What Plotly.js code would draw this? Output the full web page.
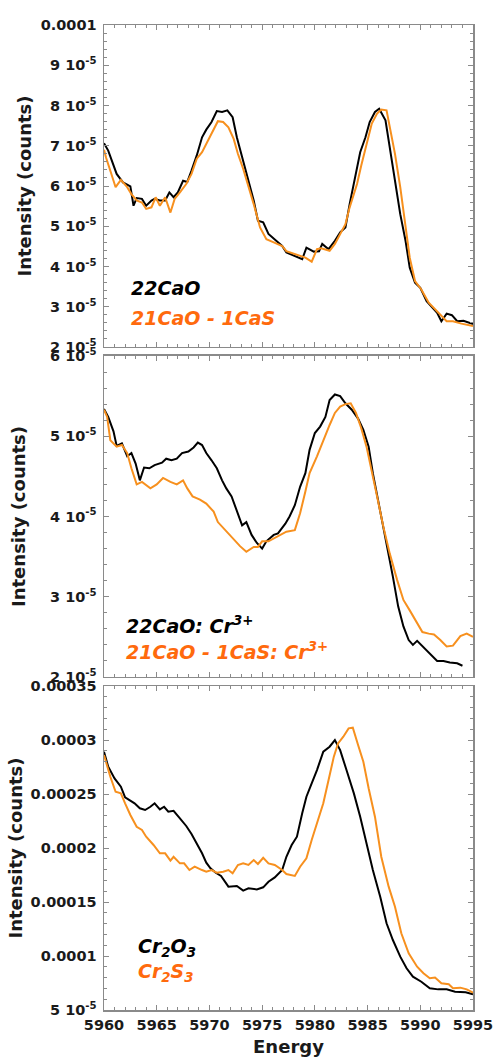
<!DOCTYPE html>
<html>
<head>
<meta charset="utf-8">
<script src="https://cdn.plot.ly/plotly-3.0.1.min.js"></script>
<style>html,body{margin:0;padding:0;background:#fff;}#chart{width:496px;height:1057px;}</style>
</head>
<body>
<div id="chart"></div>
<script>
// Intensity values are in units of 1e-5 counts
// Panel 1: 22CaO vs 21CaO - 1CaS
const e1Black = [5960.0,5960.4,5961.2,5961.8,5962.5,5962.8,5963.1,5963.6,5964.0,5964.5,5964.8,5965.3,5965.8,5966.2,5966.6,5967.0,5967.5,5967.9,5968.3,5968.8,5969.3,5969.7,5970.2,5970.7,5971.2,5971.7,5972.2,5972.6,5973.1,5973.5,5974.2,5974.6,5975.1,5975.6,5976.2,5976.9,5977.3,5978.1,5978.8,5979.2,5979.9,5980.4,5980.7,5981.3,5981.9,5982.4,5982.9,5983.3,5983.8,5984.3,5984.8,5985.2,5985.7,5986.1,5986.7,5987.1,5987.6,5988.1,5988.6,5989.0,5989.5,5990.0,5990.6,5991.2,5991.6,5992.0,5992.5,5993.0,5993.5,5994.1,5994.9,5995.0];
const i1Black = [7.06,6.88,6.30,6.09,5.99,5.51,5.70,5.68,5.51,5.64,5.68,5.64,5.64,5.84,5.72,5.84,6.13,6.10,6.38,6.76,7.21,7.40,7.59,7.86,7.84,7.88,7.71,7.21,6.72,6.30,5.64,5.14,5.10,4.81,4.68,4.51,4.35,4.26,4.18,4.47,4.37,4.38,4.56,4.43,4.64,4.85,4.97,5.55,6.22,6.84,7.21,7.59,7.84,7.92,7.63,6.97,6.13,5.30,4.64,3.97,3.60,3.47,3.14,2.98,2.85,2.64,2.83,2.79,2.64,2.65,2.58,2.57];
const e1Orange = [5960.0,5960.2,5960.6,5961.1,5961.6,5962.2,5962.6,5963.1,5963.6,5964.0,5964.5,5964.9,5965.3,5965.8,5966.3,5966.7,5967.2,5967.8,5968.3,5968.8,5969.3,5969.7,5970.4,5970.8,5971.3,5971.8,5972.3,5972.7,5973.2,5973.7,5974.2,5974.8,5975.4,5976.1,5976.9,5977.3,5978.1,5979.1,5979.7,5980.2,5980.6,5981.4,5981.9,5982.4,5982.9,5983.3,5984.0,5984.4,5984.9,5985.4,5985.9,5986.3,5986.8,5987.1,5987.6,5988.1,5988.6,5989.0,5989.5,5990.1,5990.8,5991.4,5991.9,5992.5,5993.1,5993.9,5995.0];
const i1Orange = [6.90,6.70,6.38,5.97,6.15,5.97,5.80,5.64,5.59,5.43,5.47,5.72,5.51,5.72,5.34,5.68,5.84,6.05,6.30,6.68,6.84,7.05,7.42,7.61,7.59,7.46,7.17,6.80,6.43,6.01,5.55,4.97,4.68,4.60,4.51,4.38,4.30,4.22,4.12,4.43,4.45,4.39,4.56,4.81,5.05,5.47,6.05,6.51,7.05,7.55,7.80,7.90,7.88,7.46,6.80,5.97,5.05,4.22,3.64,3.43,3.10,2.93,2.81,2.64,2.64,2.58,2.52];

// Panel 2: 22CaO: Cr3+ vs 21CaO - 1CaS: Cr3+
const e2Black = [5960.0,5960.4,5960.9,5961.2,5961.7,5962.2,5962.6,5963.0,5963.4,5963.8,5964.3,5964.8,5965.5,5965.9,5966.4,5966.9,5967.4,5968.0,5968.5,5968.9,5969.3,5969.7,5970.2,5970.7,5971.2,5971.6,5972.1,5972.6,5973.1,5973.5,5974.0,5974.5,5975.0,5975.4,5976.1,5976.5,5977.2,5977.6,5978.1,5978.6,5979.1,5979.5,5980.0,5980.5,5981.0,5981.4,5981.9,5982.4,5982.9,5983.5,5984.1,5984.6,5985.1,5985.5,5986.0,5986.5,5987.0,5987.4,5987.9,5988.4,5988.9,5989.3,5989.7,5990.3,5990.9,5991.6,5992.2,5992.8,5993.5,5994.0];
const i2Black = [5.34,5.24,5.06,4.88,4.91,4.75,4.79,4.66,4.45,4.61,4.60,4.64,4.67,4.72,4.70,4.72,4.79,4.81,4.86,4.92,4.89,4.79,4.70,4.60,4.45,4.35,4.25,4.08,3.89,3.93,3.77,3.67,3.60,3.69,3.77,3.79,3.91,4.00,4.14,4.37,4.54,4.83,5.04,5.12,5.24,5.45,5.52,5.50,5.41,5.33,5.22,5.08,4.87,4.54,4.21,3.87,3.54,3.25,2.88,2.63,2.46,2.40,2.45,2.37,2.30,2.20,2.20,2.18,2.17,2.14];
const e2Orange = [5960.0,5960.3,5960.6,5961.2,5961.7,5962.2,5962.6,5963.1,5963.6,5964.4,5965.0,5965.6,5966.3,5966.9,5967.5,5967.9,5968.4,5969.1,5969.7,5970.4,5970.8,5971.5,5972.3,5972.9,5973.5,5974.2,5974.6,5975.0,5975.6,5976.2,5976.9,5977.3,5978.1,5978.6,5979.1,5979.5,5980.2,5980.8,5981.4,5981.9,5982.4,5982.9,5983.4,5983.9,5984.4,5984.9,5985.4,5985.9,5986.5,5987.1,5987.8,5988.4,5989.0,5989.7,5990.2,5990.8,5991.3,5991.9,5992.5,5993.1,5993.8,5994.4,5995.0];
const i2Orange = [5.33,5.24,4.95,4.87,4.89,4.79,4.60,4.40,4.43,4.35,4.40,4.48,4.43,4.40,4.45,4.35,4.25,4.21,4.16,4.06,3.93,3.83,3.71,3.63,3.56,3.62,3.62,3.69,3.69,3.73,3.78,3.81,3.83,4.04,4.31,4.54,4.75,4.95,5.14,5.29,5.37,5.40,5.41,5.29,5.10,4.87,4.58,4.25,3.87,3.54,3.21,2.96,2.83,2.67,2.56,2.54,2.53,2.46,2.38,2.39,2.51,2.54,2.50];

// Panel 3: Cr2O3 vs Cr2S3
const e3Black = [5960.0,5960.4,5961.0,5961.6,5962.0,5962.5,5962.9,5963.4,5963.9,5964.4,5964.8,5965.3,5965.7,5966.1,5966.6,5967.2,5967.8,5968.3,5968.8,5969.3,5969.7,5970.1,5970.6,5971.1,5971.8,5972.6,5973.2,5973.7,5974.5,5975.1,5975.6,5976.2,5976.9,5977.3,5977.8,5978.3,5978.8,5979.2,5979.7,5980.2,5980.8,5981.4,5981.9,5982.4,5983.0,5983.7,5984.3,5984.9,5985.5,5986.2,5986.8,5987.4,5988.1,5988.7,5989.3,5990.1,5990.9,5991.7,5992.5,5993.3,5994.3,5995.0];
const i3Black = [28.92,27.53,26.45,25.68,24.69,24.38,24.14,23.68,23.52,23.82,24.14,23.58,23.82,23.36,23.45,22.75,22.04,21.30,20.44,19.51,18.64,18.12,17.71,17.41,16.42,16.48,16.05,16.27,16.17,16.36,16.88,17.28,17.96,19.19,20.28,21.05,23.21,24.75,25.99,27.22,28.92,29.38,30.00,29.07,27.22,25.06,22.90,20.44,17.96,15.49,13.03,11.48,9.94,8.86,8.09,7.62,7.01,6.91,6.91,6.70,6.64,6.45];
const e3Orange = [5960.0,5960.6,5961.1,5961.6,5962.0,5962.5,5963.1,5963.6,5964.0,5964.7,5965.3,5965.8,5966.3,5966.6,5967.2,5967.6,5968.1,5968.6,5969.3,5969.7,5970.2,5970.7,5971.3,5971.8,5972.2,5972.7,5973.2,5973.7,5974.2,5974.6,5975.1,5975.6,5976.2,5976.9,5977.3,5978.1,5978.6,5979.2,5979.7,5980.2,5980.8,5981.3,5981.8,5982.2,5982.7,5983.2,5983.6,5984.1,5984.6,5985.1,5985.7,5986.3,5987.0,5987.6,5988.2,5988.9,5989.7,5990.3,5990.9,5991.4,5992.0,5992.7,5993.1,5993.8,5994.4,5995.0];
const i3Orange = [28.61,26.60,25.21,25.06,24.14,23.06,21.97,21.67,21.05,20.28,19.51,19.51,18.83,19.19,18.58,18.58,17.96,18.27,17.96,17.81,17.96,17.71,17.81,17.96,17.65,18.43,18.58,18.43,18.89,18.52,19.10,18.58,18.43,17.96,17.59,17.41,18.27,19.05,20.74,22.29,24.14,26.30,28.46,29.69,30.31,31.08,31.14,29.54,27.99,25.53,22.90,19.19,16.42,14.56,12.10,10.25,9.01,8.40,7.94,8.00,7.47,7.38,7.01,7.07,6.91,6.60];

// Tick labels
const xTickVals = [5960,5965,5970,5975,5980,5985,5990,5995];
const xTickText = ["5960","5965","5970","5975","5980","5985","5990","5995"];
const y1TickVals = [2,3,4,5,6,7,8,9,10];
const y1TickText = ["2 10<sup>-5</sup>","3 10<sup>-5</sup>","4 10<sup>-5</sup>","5 10<sup>-5</sup>","6 10<sup>-5</sup>","7 10<sup>-5</sup>","8 10<sup>-5</sup>","9 10<sup>-5</sup>","0.0001"];
const y2TickVals = [2,3,4,5,6];
const y2TickText = ["2 10<sup>-5</sup>","3 10<sup>-5</sup>","4 10<sup>-5</sup>","5 10<sup>-5</sup>","6 10<sup>-5</sup>"];
const y3TickVals = [5,10,15,20,25,30,35];
const y3TickText = ["5 10<sup>-5</sup>","0.0001","0.00015","0.0002","0.00025","0.0003","0.00035"];

const BLACK = '#000000';
const ORANGE = '#f7901e';
const ORANGE_TXT = '#ff6a0d';
const FRAME = '#8a8a8a';
const FONT = 'DejaVu Sans';

function line(x, y, color, xa, ya) {
  return {x: x, y: y, type: 'scatter', mode: 'lines', xaxis: xa, yaxis: ya,
    line: {color: color, width: 2}, showlegend: false, hoverinfo: 'skip'};
}

const data = [
  line(e1Black, i1Black, BLACK, 'x', 'y'),
  line(e1Orange, i1Orange, ORANGE, 'x', 'y'),
  line(e2Black, i2Black, BLACK, 'x2', 'y2'),
  line(e2Orange, i2Orange, ORANGE, 'x2', 'y2'),
  line(e3Black, i3Black, BLACK, 'x3', 'y3'),
  line(e3Orange, i3Orange, ORANGE, 'x3', 'y3')
];

const tickFont = {family: FONT, size: 14.5, color: '#1a1a1a', weight: 'bold'};

function xAxis(anchor, labels) {
  const ax = {
    anchor: anchor, range: [5960, 5995], domain: [0, 1],
    showline: true, linecolor: FRAME, linewidth: 1.5, mirror: 'ticks',
    ticks: 'inside', ticklen: 5, tickwidth: 1, tickcolor: FRAME,
    tickmode: 'array', tickvals: xTickVals, ticktext: xTickText,
    showticklabels: labels, tickfont: tickFont, ticklabelstandoff: 1,
    minor: {ticks: 'inside', ticklen: 3, tickwidth: 1, tickcolor: FRAME, dtick: 1, tick0: 5960, showgrid: false},
    showgrid: false, zeroline: false, fixedrange: true
  };
  if (labels) {
    ax.title = {text: 'Energy', font: {family: FONT, size: 18, color: '#1a1a1a', weight: 'bold'}, standoff: 10};
  }
  return ax;
}

function yAxis(anchor, domain, range, vals, text, minorStep, standoff) {
  return {
    anchor: anchor, domain: domain, range: range,
    showline: true, linecolor: FRAME, linewidth: 1.5, mirror: 'ticks',
    ticks: 'inside', ticklen: 5, tickwidth: 1, tickcolor: FRAME,
    tickmode: 'array', tickvals: vals, ticktext: text,
    tickfont: tickFont, ticklabelstandoff: 3,
    minor: {ticks: 'inside', ticklen: 3, tickwidth: 1, tickcolor: FRAME, tickmode: 'linear', tick0: 0, dtick: minorStep, showgrid: false},
    title: {text: 'Intensity (counts)', font: {family: FONT, size: 18, color: '#1a1a1a', weight: 'bold'}, standoff: standoff},
    showgrid: false, zeroline: false, fixedrange: true
  };
}

function label(text, color, x, y, xr, yr) {
  return {text: '<b><i>' + text + '</i></b>', x: x, y: y, xref: xr, yref: yr,
    xanchor: 'left', yanchor: 'middle', showarrow: false,
    font: {family: FONT, size: 19, color: color}};
}

const layout = {
  width: 496, height: 1057,
  margin: {l: 104, r: 23, t: 25, b: 47, pad: 0},
  paper_bgcolor: '#ffffff', plot_bgcolor: '#ffffff',
  showlegend: false,
  xaxis: xAxis('y', false),
  xaxis2: xAxis('y2', false),
  xaxis3: xAxis('y3', true),
  yaxis: yAxis('x', [0.6731, 1], [2, 10], y1TickVals, y1TickText, 0.2, 4),
  yaxis2: yAxis('x2', [0.3381, 0.6640], [2, 6], y2TickVals, y2TickText, 0.2, 19),
  yaxis3: yAxis('x3', [0, 0.3289], [5, 35], y3TickVals, y3TickText, 1, 3),
  annotations: [
    label('22CaO', BLACK, 5962.4, 3.47, 'x', 'y'),
    label('21CaO - 1CaS', ORANGE_TXT, 5962.4, 2.72, 'x', 'y'),
    label('22CaO: Cr<sup>3+</sup>', BLACK, 5961.9, 2.65, 'x2', 'y2'),
    label('21CaO - 1CaS: Cr<sup>3+</sup>', ORANGE_TXT, 5961.9, 2.32, 'x2', 'y2'),
    label('Cr<sub>2</sub>O<sub>3</sub>', BLACK, 5963.0, 10.8, 'x3', 'y3'),
    label('Cr<sub>2</sub>S<sub>3</sub>', ORANGE_TXT, 5963.0, 8.45, 'x3', 'y3')
  ]
};

Plotly.newPlot('chart', data, layout, {displayModeBar: false, staticPlot: true});
</script>
</body>
</html>
